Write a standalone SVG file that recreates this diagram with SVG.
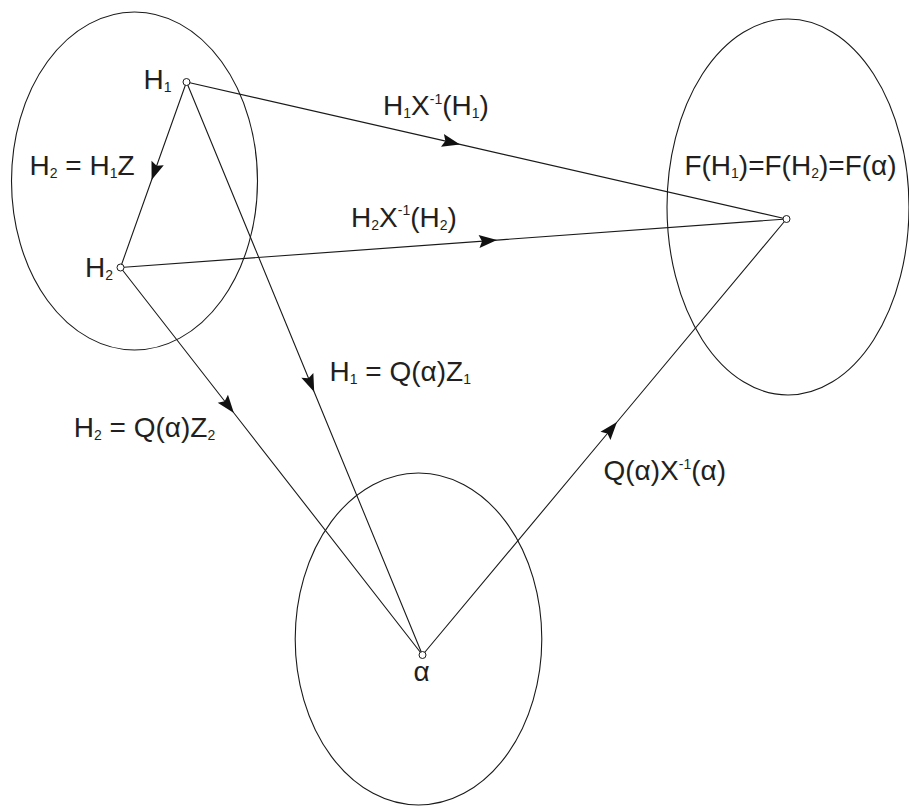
<svg xmlns="http://www.w3.org/2000/svg" width="909" height="806" viewBox="0 0 909 806">
<defs>
<style>
.set{fill:none;stroke:#1a1a1a;stroke-width:1.1}
.edge{fill:none;stroke:#1a1a1a;stroke-width:1.1;marker-mid:url(#ah)}
.pt{fill:#fff;stroke:#1a1a1a;stroke-width:1}
text{font-family:"Liberation Sans",Arial,sans-serif;font-size:28px;fill:#231f20}
.s{font-size:14px}
</style>
<marker id="ah" viewBox="-19 -7 21 14" refX="0" refY="0" markerWidth="21" markerHeight="14" markerUnits="userSpaceOnUse" orient="auto">
<path d="M0,0 L-18,-6.5 L-15,0 L-18,6.5 Z" fill="#111"/>
</marker>
</defs>
<rect width="909" height="806" fill="#fff"/>
<g id="sets">
<ellipse id="set-left" class="set" cx="134.5" cy="181" rx="123" ry="169"/>
<ellipse id="set-right" class="set" cx="788" cy="207" rx="121" ry="188"/>
<ellipse id="set-bottom" class="set" cx="418.5" cy="639" rx="123.3" ry="166"/>
</g>
<g id="connectors">
<path class="edge" d="M186.5,82 L151.6,180 L120.5,267.5"/>
<path class="edge" d="M186.5,82 L460,144.4 L786.5,219"/>
<path class="edge" d="M120.5,267.5 L497,240.1 L786.5,219"/>
<path class="edge" d="M120.5,267.5 L233.9,413 L422.5,655"/>
<path class="edge" d="M186.5,82 L314.2,392 L422.5,655"/>
<path class="edge" d="M422.5,655 L617,422 L786.5,219"/>
</g>
<g id="connector-labels">
<text x="29.5" y="175">H<tspan class="s" dy="3">2</tspan><tspan dy="-3"> = H</tspan><tspan class="s" dy="3">1</tspan><tspan dy="-3">Z</tspan></text>
<text x="383" y="115">H<tspan class="s" dy="3">1</tspan><tspan dy="-3">X</tspan><tspan class="s" dy="-11.5">-1</tspan><tspan dy="11.5">(H</tspan><tspan class="s" dy="3">1</tspan><tspan dy="-3">)</tspan></text>
<text x="351" y="226.5">H<tspan class="s" dy="3">2</tspan><tspan dy="-3">X</tspan><tspan class="s" dy="-11.5">-1</tspan><tspan dy="11.5">(H</tspan><tspan class="s" dy="3">2</tspan><tspan dy="-3">)</tspan></text>
<text x="329.5" y="381">H<tspan class="s" dy="3">1</tspan><tspan dy="-3"> = Q(α)Z</tspan><tspan class="s" dy="3">1</tspan></text>
<text x="73.8" y="437">H<tspan class="s" dy="3">2</tspan><tspan dy="-3"> = Q(α)Z</tspan><tspan class="s" dy="3">2</tspan></text>
<text x="603.5" y="480">Q(α)X<tspan class="s" dy="-11.5">-1</tspan><tspan dy="11.5">(α)</tspan></text>
</g>
<g id="node-H1">
<circle class="pt" cx="186.5" cy="82" r="3.5"/>
<text x="143.5" y="89">H<tspan class="s" dy="3">1</tspan></text>
</g>
<g id="node-H2">
<circle class="pt" cx="120.5" cy="267.5" r="3.5"/>
<text x="85" y="277">H<tspan class="s" dy="3">2</tspan></text>
</g>
<g id="node-F">
<circle class="pt" cx="786.5" cy="219" r="3.5"/>
<text x="684.4" y="175">F(H<tspan class="s" dy="3">1</tspan><tspan dy="-3">)=F(H</tspan><tspan class="s" dy="3">2</tspan><tspan dy="-3">)=F(α)</tspan></text>
</g>
<g id="node-alpha">
<circle class="pt" cx="422.5" cy="655" r="3.5"/>
<text x="413.5" y="681">α</text>
</g>
</svg>
